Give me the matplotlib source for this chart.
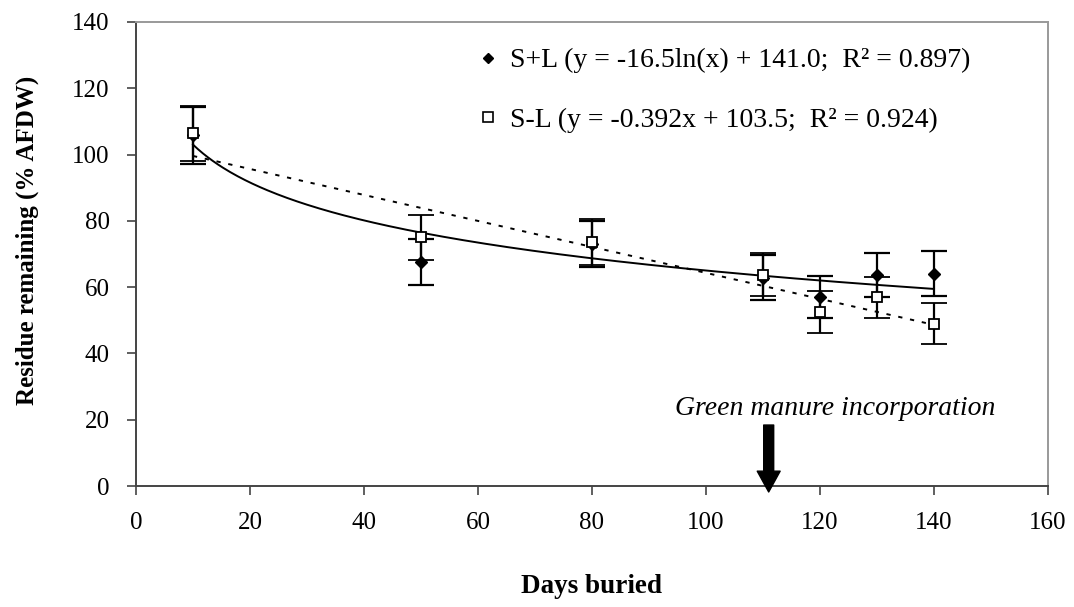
import numpy as np
import matplotlib
matplotlib.use("Agg")
import matplotlib.pyplot as plt
from matplotlib.lines import Line2D

plt.rcParams['font.family'] = ['Liberation Serif', 'DejaVu Serif']

days = [10, 50, 80, 110, 120, 130, 140]
sl_plus = [105.8, 67.5, 73.0, 62.9, 57.0, 63.6, 64.1]
sl_plus_err = [8.6, 6.9, 7.0, 6.7, 6.4, 6.7, 6.9]
sl_minus = [106.4, 75.0, 73.6, 63.8, 52.5, 56.9, 49.0]
sl_minus_err = [8.3, 6.9, 7.0, 6.5, 6.4, 6.3, 6.1]

# trendline coefficients from the legend equations
log_a, log_b = -16.5, 141.0
lin_a, lin_b = -0.392, 103.5

label_plus = "S+L (y = -16.5ln(x) + 141.0;  R² = 0.897)"
label_minus = "S-L (y = -0.392x + 103.5;  R² = 0.924)"
annot_text = "Green manure incorporation"
annot_day = 111

fig = plt.figure(figsize=(10.74, 6.07), dpi=100)
ax = fig.add_axes([0.1266, 0.1993, 0.9758 - 0.1266, 0.9638 - 0.1993])

xf = np.linspace(days[0], days[-1], 300)
ax.plot(xf, log_a * np.log(xf) + log_b, color='black', lw=1.4, zorder=2)
ax.plot(xf, lin_a * xf + lin_b, color='black', lw=1.4, dashes=(2.2, 4.0), zorder=2)

ax.errorbar(days, sl_plus, yerr=sl_plus_err, fmt='D', ms=6.6, mfc='black', mec='black',
            ecolor='black', elinewidth=1.6, capsize=9.4, capthick=1.6, zorder=3)
ax.errorbar(days, sl_minus, yerr=sl_minus_err, fmt='s', ms=7.4, mfc='white', mec='black',
            mew=1.3, ecolor='black', elinewidth=1.6, capsize=9.4, capthick=1.6, zorder=4)

ax.set_xlim(0, 160)
ax.set_ylim(0, 140)
ax.set_xticks(np.arange(0, 161, 20))
ax.set_yticks(np.arange(0, 141, 20))
ax.tick_params(direction='out', length=6.5, width=1.2, pad=12.5, labelsize=18,
               color='#444444', labelcolor='black')
for s in ['left', 'bottom']:
    ax.spines[s].set_color('#444444')
    ax.spines[s].set_linewidth(1.4)
for s in ['top', 'right']:
    ax.spines[s].set_color('#999999')
    ax.spines[s].set_linewidth(1.4)

ax.set_xlabel('Days buried', fontsize=19.5, fontweight='bold')
ax.xaxis.set_label_coords(0.5, -0.19)
ax.set_ylabel('Residue remaining (% AFDW)', fontsize=18, fontweight='bold', va='center')
ax.yaxis.set_label_coords(-0.1195, 0.53)

h1 = Line2D([], [], marker='D', ls='none', ms=5.6, mfc='black', mec='black')
h2 = Line2D([], [], marker='s', ls='none', ms=6.5, mfc='white', mec='black', mew=1.2)
ax.legend([h1, h2], [label_plus, label_minus], loc='center left',
          bbox_to_anchor=(0.380, 0.853), frameon=False, fontsize=20,
          borderpad=0, borderaxespad=0,
          handlelength=0.4, handletextpad=0.59, labelspacing=1.22)

ax.text(94.6, 21.4, annot_text, style='italic', fontsize=20,
        ha='left', va='baseline')
ax.annotate('', xy=(annot_day, -1.8), xytext=(annot_day, 18.4), annotation_clip=False,
            arrowprops=dict(width=7.2, headwidth=16.5, headlength=15,
                            facecolor='black', edgecolor='black', shrink=0))

fig.savefig('out.png', dpi=100)
